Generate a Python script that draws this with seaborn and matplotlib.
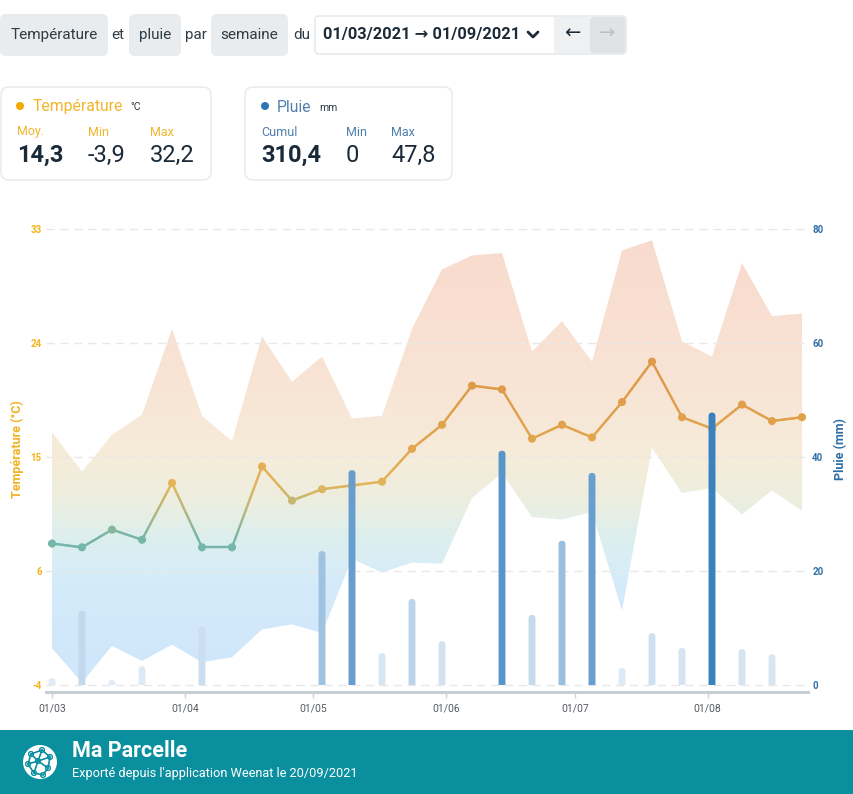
import numpy as np
import pandas as pd
import matplotlib
matplotlib.use("Agg")
import matplotlib.pyplot as plt
import seaborn as sns
from matplotlib.colors import LinearSegmentedColormap, Normalize, to_rgb
from matplotlib.collections import LineCollection
from matplotlib.patches import FancyBboxPatch, PathPatch, Circle, Rectangle
from matplotlib.lines import Line2D
from matplotlib.transforms import IdentityTransform, Bbox, TransformedBbox

# ---------------- data ----------------
week_start = ['2021-03-01', '2021-03-08', '2021-03-15', '2021-03-22', '2021-03-29',
              '2021-04-05', '2021-04-12', '2021-04-19', '2021-04-26', '2021-05-03',
              '2021-05-10', '2021-05-17', '2021-05-24', '2021-05-31', '2021-06-07',
              '2021-06-14', '2021-06-21', '2021-06-28', '2021-07-05', '2021-07-12',
              '2021-07-19', '2021-07-26', '2021-08-02', '2021-08-09', '2021-08-16',
              '2021-08-23']
temp_mean = [7.3, 7.0, 8.4, 7.6, 12.1, 7.0, 7.0, 13.4, 10.7, 11.6, 11.9, 12.2, 14.8,
             16.7, 19.8, 19.5, 15.6, 16.7, 15.7, 18.5, 21.7, 17.3, 16.4, 18.3, 17.0, 17.3]
temp_max = [16.1, 13.0, 15.9, 17.5, 24.3, 17.4, 15.4, 23.7, 20.1, 22.1, 17.2, 17.4, 24.3,
            29.0, 30.1, 30.3, 22.5, 24.9, 21.7, 30.5, 31.3, 23.3, 22.1, 29.5, 25.3, 25.5]
temp_min = [-1.0, -3.7, -0.8, -2.0, -0.7, -2.1, -1.7, 0.5, 0.9, 0.2, 6.1, 5.0, 5.8,
            5.7, 10.9, 12.9, 9.4, 9.2, 9.8, 2.0, 14.9, 11.3, 11.7, 9.6, 11.5, 9.9]
rain = [1.2, 13.0, 0.9, 3.3, 0.0, 10.2, 0.0, 0.0, 0.0, 23.5, 37.7, 5.6, 15.1, 7.7, 0.0,
        41.1, 12.3, 25.3, 37.2, 3.0, 9.1, 6.5, 47.8, 6.3, 5.4, 0.0]

month_start = ['2021-03-01', '2021-04-01', '2021-05-01', '2021-06-01', '2021-07-01', '2021-08-01']
month_labels = ['01/03', '01/04', '01/05', '01/06', '01/07', '01/08']

temp_min_stat, temp_max_stat = -3.9, 32.2
temp_tick_labels = ['-4', '6', '15', '24', '33']
rain_ticks = [0, 20, 40, 60, 80]

stats_temp = [('Moy.', '14,3'), ('Min', '-3,9'), ('Max', '32,2')]
stats_rain = [('Cumul', '310,4'), ('Min', '0'), ('Max', '47,8')]

# ---------------- setup ----------------
sns.set_theme(style="white")
plt.rcParams['font.family'] = ['Roboto', 'DejaVu Sans']

W, H = 854, 794
fig = plt.figure(figsize=(W / 100, H / 100), dpi=100)
fig.patch.set_facecolor('white')

t0 = pd.Timestamp(week_start[0])
days = np.array([(pd.Timestamp(d) - t0).days for d in week_start], dtype=float)
mdays = [(pd.Timestamp(d) - t0).days for d in month_start]

df = pd.DataFrame({'day': days, 'tmean': temp_mean, 'tmin': temp_min,
                   'tmax': temp_max, 'rain': rain})

# axes in pixel layout
ax_l, ax_r, ax_t, ax_b = 46, 808, 229, 692
ax = fig.add_axes([ax_l / W, (H - ax_b) / H, (ax_r - ax_l) / W, (ax_b - ax_t) / H])
px_per_day = 750 / 175.0
xlo = -(52 - ax_l) / px_per_day
xhi = days[-1] + (ax_r - 802) / px_per_day
t_px = 456 / (temp_max_stat - temp_min_stat)
ylo = temp_min_stat - (ax_b - 685) / t_px
ax.set_facecolor('none')

# ---------------- temperature envelope (gradient fill) ----------------
def cmap_from(anchors, lo, hi, name):
    pos = [(v - lo) / (hi - lo) for v, _ in anchors]
    pos[0], pos[-1] = 0.0, 1.0
    return LinearSegmentedColormap.from_list(name, list(zip(pos, [c for _, c in anchors])))

fill_cmap = cmap_from([(ylo, '#cfe5fa'), (4, '#d4ebfb'), (7.5, '#dcefef'), (11, '#eeeede'),
                       (14, '#f6ecda'), (20, '#f8e4d5'), (temp_max_stat, '#f9dacd')],
                      ylo, temp_max_stat, 'fill')
fb = ax.fill_between(df['day'], df['tmin'], df['tmax'], facecolor='none', edgecolor='none')
clip = PathPatch(fb.get_paths()[0], transform=ax.transData, fc='none', ec='none')
ax.add_patch(clip)
grad = np.linspace(0, 1, 512).reshape(-1, 1)
im = ax.imshow(grad, cmap=fill_cmap, extent=[xlo, xhi, ylo, temp_max_stat], origin='lower',
               aspect='auto', zorder=1, interpolation='bilinear')
im.set_clip_path(clip)

# grid lines
temp_ticks = np.linspace(temp_min_stat, temp_max_stat, len(temp_tick_labels))
for yv in temp_ticks:
    ax.axhline(yv, color='#e8e8e8', lw=1.0, ls=(0, (6, 4)), zorder=2, clip_on=False)

# ---------------- mean temperature line ----------------
line_cmap = cmap_from([(ylo, '#6fb3ad'), (7.8, '#76b6a8'), (10.0, '#b8b77c'),
                       (12.0, '#e3b45a'), (15.0, '#e2a64e'), (20.0, '#df9a48'),
                       (temp_max_stat, '#dd9045')], ylo, temp_max_stat, 'line')
lnorm = Normalize(ylo, temp_max_stat)
segs, cols = [], []
for i in range(len(days) - 1):
    tt = np.linspace(0, 1, 16)
    xs = days[i] + (days[i + 1] - days[i]) * tt
    ys = temp_mean[i] + (temp_mean[i + 1] - temp_mean[i]) * tt
    for j in range(len(tt) - 1):
        segs.append([(xs[j], ys[j]), (xs[j + 1], ys[j + 1])])
        cols.append(line_cmap(lnorm((ys[j] + ys[j + 1]) / 2)))
lc = LineCollection(segs, colors=cols, linewidths=1.7, zorder=3, capstyle='round')
ax.add_collection(lc)
sns.scatterplot(data=df, x='day', y='tmean', hue='tmean', palette=line_cmap,
                hue_norm=(ylo, temp_max_stat), s=34, edgecolor='none', linewidth=0,
                legend=False, ax=ax, zorder=4)

ax.set_xlim(xlo, xhi)
ax.set_ylim(ylo, temp_max_stat)
ax.set_xlabel('')
ax.set_ylabel('')
ax.set_yticks(temp_ticks)
ax.set_yticklabels(temp_tick_labels)
ax.set_xticks(mdays)
ax.set_xticklabels(month_labels)
ax.tick_params(axis='y', length=0, pad=3, labelsize=7, labelcolor='#f2b418')
ax.tick_params(axis='x', length=4, width=1, color='#cfd3d7', pad=4, labelsize=7.5,
               labelcolor='#555b61', bottom=True)
for lbl in ax.get_yticklabels():
    lbl.set_fontweight('bold')
for s in ['left', 'right', 'top']:
    ax.spines[s].set_visible(False)
ax.spines['bottom'].set_color('#c9ced3')
ax.spines['bottom'].set_linewidth(2.2)

# ---------------- rain bars ----------------
ax2 = ax.twinx()
sns.barplot(data=df, x='day', y='rain', native_scale=True, width=0.23, errorbar=None,
            color='#5b9ecf', ax=ax2, zorder=5, linewidth=0)
rain_ylo = -(ax_b - 685) / 5.7
ax2.set_ylim(rain_ylo, 80)
ax2.set_xlim(xlo, xhi)
c0 = np.array(to_rgb('#e2ecf6'))
c1 = np.array(to_rgb('#3a82bf'))
rmax = max(rain)
aspect = (1 / 5.7) / (1 / px_per_day)
clipbox = TransformedBbox(Bbox([[xlo, 0], [xhi, 80]]), ax2.transData)
for p in list(ax2.patches):
    xc = p.get_x() + p.get_width() / 2
    i = int(np.argmin(np.abs(days - xc)))
    f = (rain[i] / rmax) ** 1.3
    h = p.get_height()
    w = p.get_width()
    x0 = p.get_x()
    p.remove()
    if h <= 0:
        continue
    r = w / 2
    base = -r * aspect * 1.2
    rb = FancyBboxPatch((x0, base), w, h - base,
                        boxstyle=f"round,pad=0,rounding_size={r}", mutation_aspect=aspect,
                        fc=tuple(c0 + (c1 - c0) * f), ec='none', lw=0, zorder=5,
                        transform=ax2.transData)
    ax2.add_patch(rb)
    rb.set_clip_box(clipbox)
ax2.set_yticks(rain_ticks)
ax2.set_yticklabels([str(v) for v in rain_ticks])
ax2.set_xlabel('')
ax2.set_ylabel('')
ax2.tick_params(axis='y', length=0, pad=3, labelsize=7, labelcolor='#2f6ea6')
for lbl in ax2.get_yticklabels():
    lbl.set_fontweight('bold')
for s in ['left', 'right', 'top', 'bottom']:
    ax2.spines[s].set_visible(False)
ax2.grid(False)
ax.grid(False)

fig.text(17 / W, 1 - 449 / H, 'Température (°C)', rotation=90, ha='center', va='center',
         fontsize=9, fontweight='bold', color='#f0b323')
fig.text(841 / W, 1 - 449 / H, 'Pluie (mm)', rotation=90, ha='center', va='center',
         fontsize=9, fontweight='bold', color='#2f6ea6')

# ---------------- header UI ----------------
def box(x0, y0, x1, y1, fc, ec='none', r=6, lw=1.0):
    p = FancyBboxPatch((x0, H - y1), x1 - x0, y1 - y0,
                       boxstyle=f"round,pad=0,rounding_size={r}", fc=fc, ec=ec, lw=lw,
                       transform=IdentityTransform())
    fig.add_artist(p)

def txt(x, y, s, **kw):
    kw.setdefault('va', 'center')
    kw.setdefault('ha', 'left')
    fig.text(x / W, 1 - y / H, s, **kw)

hdr_c = '#2f3b45'
box(0, 14, 108, 56, '#e8ecee')
txt(54, 35, 'Température', ha='center', fontsize=11, color=hdr_c)
txt(111, 35, 'et', fontsize=11, color=hdr_c)
box(129, 14, 181, 56, '#e8ecee')
txt(155, 35, 'pluie', ha='center', fontsize=11, color=hdr_c)
txt(185, 35, 'par', fontsize=11, color=hdr_c)
box(211, 14, 288, 56, '#e8ecee')
txt(249.5, 35, 'semaine', ha='center', fontsize=11, color=hdr_c)
txt(293, 35, 'du', fontsize=11, color=hdr_c)
box(315, 16, 626, 54, 'white', ec='#e2e5e8', r=4)
box(554, 17, 590, 53, '#eef0f1', r=0)
box(590, 17, 625, 53, '#dfe3e6', r=3)
txt(323, 35, '01/03/2021 → 01/09/2021', fontsize=11.8, fontweight='bold', color='#1d2b38')
fig.add_artist(Line2D([528, 533, 538], [H - 32, H - 37, H - 32], color='#1d2b38', lw=2,
                      transform=IdentityTransform(), solid_capstyle='round',
                      solid_joinstyle='round'))
txt(572, 34, '←', ha='center', fontsize=14, color='#1d2b38')
txt(607.5, 34, '→', ha='center', fontsize=14, color='#b9c0c6')

# ---------------- stat cards ----------------
tcol = '#f2b52b'
box(1, 87, 211, 180, 'white', ec='#e6e8ea', r=8)
fig.add_artist(Circle((20, H - 106), 4, fc='#f2a900', ec='none', transform=IdentityTransform()))
txt(33, 107, 'Température', fontsize=11.3, color=tcol)
txt(130, 107, '°C', fontsize=7.5, color='#2b3a46')
for (lab, val), xx, bold in zip(stats_temp, [17, 88, 150], [True, False, False]):
    txt(xx, 132, lab, fontsize=9, color=tcol)
    txt(xx, 155, val, fontsize=17, color='#1b2a38', fontweight='bold' if bold else 'normal')

rcol = '#4f7fae'
box(245, 87, 452, 180, 'white', ec='#e6e8ea', r=8)
fig.add_artist(Circle((265, H - 106), 4, fc='#2e75b6', ec='none', transform=IdentityTransform()))
txt(277, 107, 'Pluie', fontsize=11.3, color=rcol)
txt(319, 108, 'mm', fontsize=7.5, color='#2b3a46')
for (lab, val), xx, bold in zip(stats_rain, [261, 346, 391], [True, False, False]):
    txt(xx, 132, lab, fontsize=9, color=rcol)
    txt(xx, 155, val, fontsize=17, color='#1b2a38', fontweight='bold' if bold else 'normal')

# ---------------- footer ----------------
fig.add_artist(Rectangle((0, 0), W, 64, fc='#0a8f9f', ec='none', transform=IdentityTransform()))
cx, cy = 40, H - 762
fig.add_artist(Circle((cx, cy), 17, fc='white', ec='none', transform=IdentityTransform()))
nodes = [(-9, 8), (2, 12), (10, 5), (-12, -2), (-2, 1), (8, -6), (-6, -11), (3, -13)]
edges = [(0, 1), (1, 2), (0, 4), (1, 4), (2, 4), (3, 4), (4, 5), (2, 5), (3, 6), (4, 6),
         (6, 7), (5, 7), (0, 3)]
for a, b in edges:
    fig.add_artist(Line2D([cx + nodes[a][0], cx + nodes[b][0]], [cy + nodes[a][1], cy + nodes[b][1]],
                          color='#0a8f9f', lw=1.2, transform=IdentityTransform()))
for nx, ny in nodes:
    fig.add_artist(Circle((cx + nx, cy + ny), 2.4, fc='white', ec='#0a8f9f', lw=1.0,
                          transform=IdentityTransform()))
txt(72, 751, 'Ma Parcelle', fontsize=15.5, fontweight='bold', color='white')
txt(72, 774, "Exporté depuis l'application Weenat le 20/09/2021", fontsize=9.2, color='white')

fig.savefig('out.png', dpi=100, facecolor='white')
